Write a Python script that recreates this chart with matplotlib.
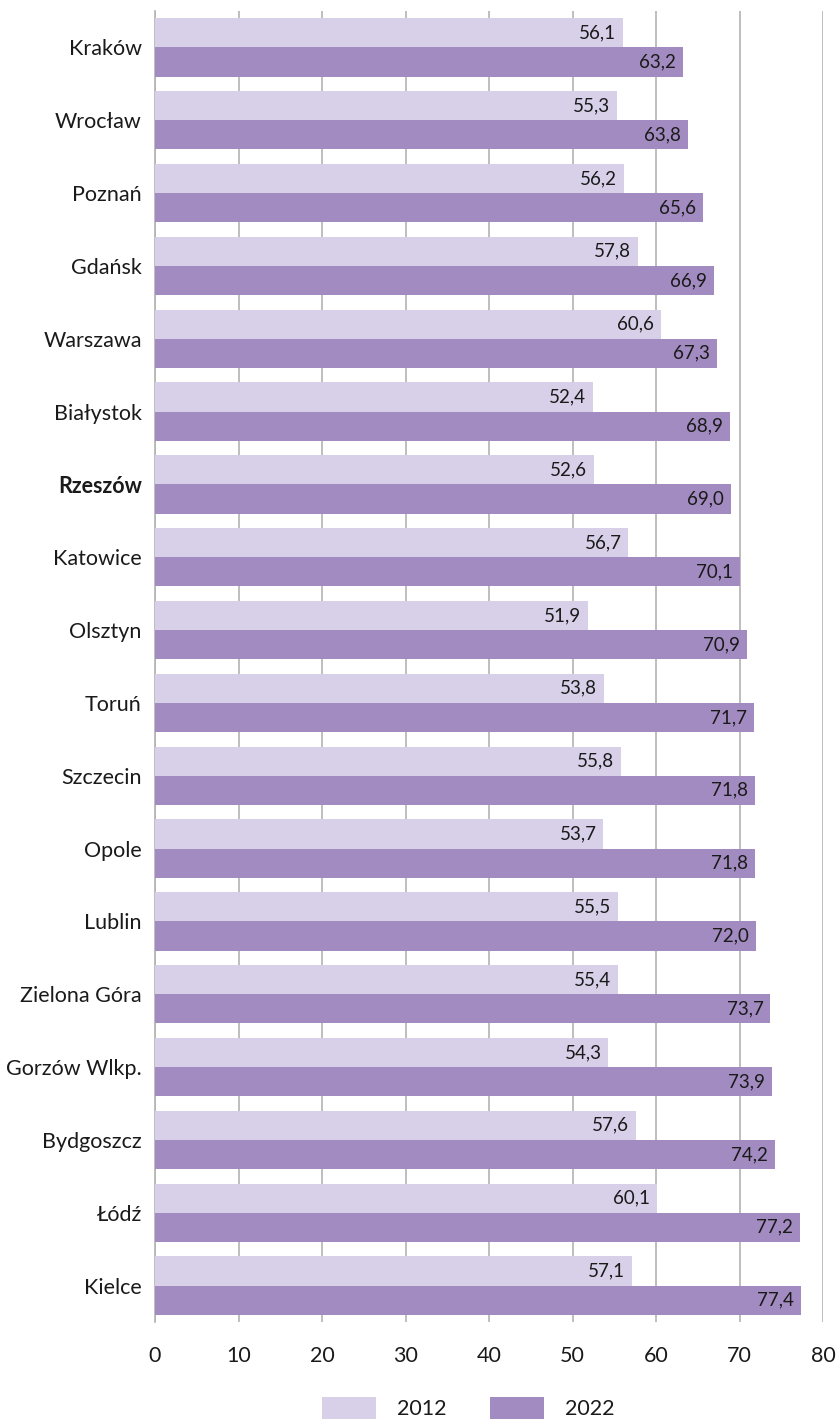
import matplotlib
matplotlib.use("Agg")
import matplotlib.pyplot as plt
import numpy as np
from matplotlib.patches import Patch

plt.rcParams['font.family'] = ['Lato', 'DejaVu Sans']

cities = ["Kraków", "Wrocław", "Poznań", "Gdańsk", "Warszawa", "Białystok",
          "Rzeszów", "Katowice", "Olsztyn", "Toruń", "Szczecin", "Opole",
          "Lublin", "Zielona Góra", "Gorzów Wlkp.", "Bydgoszcz", "Łódź", "Kielce"]
values_2012 = [56.1, 55.3, 56.2, 57.8, 60.6, 52.4, 52.6, 56.7, 51.9, 53.8,
               55.8, 53.7, 55.5, 55.4, 54.3, 57.6, 60.1, 57.1]
values_2022 = [63.2, 63.8, 65.6, 66.9, 67.3, 68.9, 69.0, 70.1, 70.9, 71.7,
               71.8, 71.8, 72.0, 73.7, 73.9, 74.2, 77.2, 77.4]
series_labels = ["2012", "2022"]
highlight = "Rzeszów"

light = "#d8d0e8"
dark = "#a28bc0"
grid_col = "#b3b3b3"
text_col = "#1a1a1a"

W, H = 839, 1422
fig = plt.figure(figsize=(W / 100, H / 100), dpi=100)
ax = fig.add_axes([155 / W, 1 - 1322 / H, (823 - 155) / W, (1322 - 11) / H])

y = np.arange(len(cities))
bh = 0.4
b1 = ax.barh(y - bh / 2, values_2012, height=bh, color=light, zorder=3)
b2 = ax.barh(y + bh / 2, values_2022, height=bh, color=dark, zorder=3)

def fmt(v):
    return f"{v:.1f}".replace(".", ",")

# value labels tucked inside the bar end
for offset, vals in ((-bh / 2, values_2012), (bh / 2, values_2022)):
    for yi, v in zip(y, vals):
        ax.annotate(fmt(v), xy=(v, yi + offset), xytext=(-5, 0),
                    textcoords="offset points", ha="right", va="center",
                    fontsize=13.5, color=text_col, zorder=4)

ax.set_xlim(0, 80)
ax.set_ylim(len(cities) - 0.5, -0.5)
ax.set_xticks(np.arange(0, 81, 10))
ax.set_yticks(y)
ax.set_yticklabels(cities)
for lbl in ax.get_yticklabels():
    if lbl.get_text() == highlight:
        lbl.set_fontweight("bold")

ax.grid(axis="x", color=grid_col, linewidth=1.2, zorder=0)
ax.grid(axis="y", visible=False)
for s in ("top", "right", "bottom"):
    ax.spines[s].set_visible(False)
ax.spines["left"].set_color(grid_col)
ax.spines["left"].set_linewidth(1.2)

ax.tick_params(axis="y", length=0, pad=9.5, labelsize=15.5, labelcolor=text_col)
ax.tick_params(axis="x", length=0, pad=17, labelsize=15.5, labelcolor=text_col)

handles = [Patch(facecolor=light, edgecolor="none"),
           Patch(facecolor=dark, edgecolor="none")]
fig.legend(handles, series_labels, loc="center", bbox_to_anchor=(0.558, 1 - 1408 / H),
           ncol=2, frameon=False, fontsize=15.5, handlelength=2.5, handleheight=1.25,
           handletextpad=1.0, columnspacing=2.0, labelcolor=text_col)

fig.savefig("out.png", dpi=100)
